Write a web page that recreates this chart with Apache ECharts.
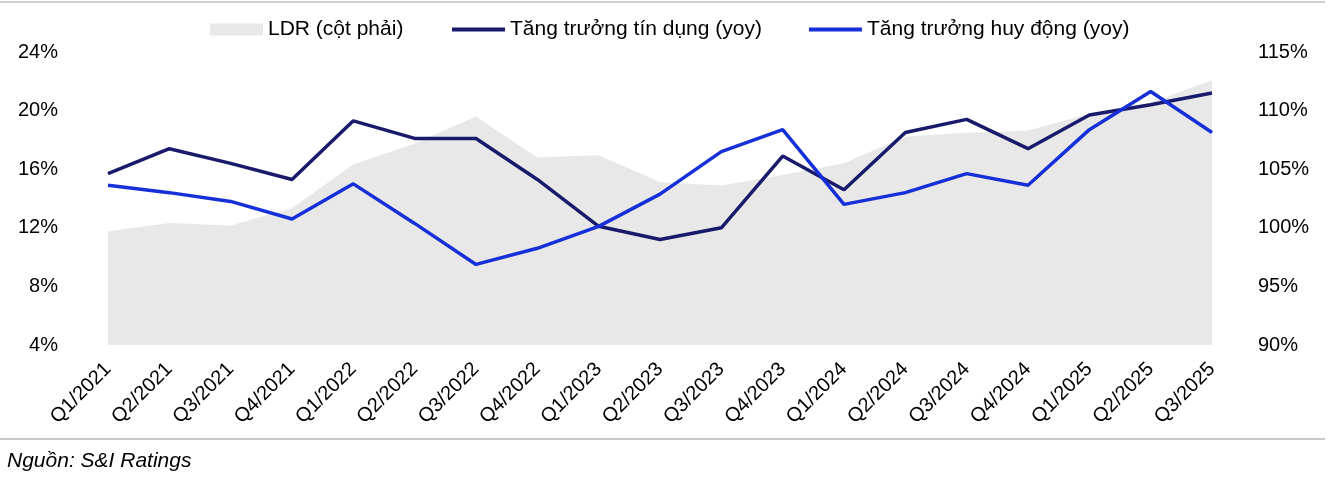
<!DOCTYPE html>
<html>
<head>
<meta charset="utf-8">
<script src="https://cdn.jsdelivr.net/npm/echarts@6/dist/echarts.min.js"></script>
<style>
html,body{margin:0;padding:0;background:#fff;}
#chart{width:1342px;height:488px;}
</style>
</head>
<body>
<div id="chart"></div>
<script>
var categories = ['Q1/2021','Q2/2021','Q3/2021','Q4/2021','Q1/2022','Q2/2022','Q3/2022','Q4/2022','Q1/2023','Q2/2023','Q3/2023','Q4/2023','Q1/2024','Q2/2024','Q3/2024','Q4/2024','Q1/2025','Q2/2025','Q3/2025'];
var ldr = [99.7, 100.4, 100.2, 101.7, 105.4, 107.2, 109.5, 106.0, 106.2, 103.9, 103.6, 104.5, 105.5, 107.8, 108.1, 108.3, 109.7, 110.7, 112.6];
var creditGrowth = [15.7, 17.4, 16.4, 15.3, 19.3, 18.1, 18.1, 15.3, 12.1, 11.2, 12.0, 16.9, 14.6, 18.5, 19.4, 17.4, 19.7, 20.4, 21.2];
var depositGrowth = [14.9, 14.4, 13.8, 12.6, 15.0, 12.3, 9.5, 10.6, 12.1, 14.3, 17.2, 18.7, 13.6, 14.4, 15.7, 14.9, 18.7, 21.3, 18.5];
var leftTicks = {min: 4, max: 24, interval: 4};
var rightTicks = {min: 90, max: 115, interval: 5};

var FONT = '"Liberation Sans", Arial, sans-serif';
var chart = echarts.init(document.getElementById('chart'));
chart.setOption({
  animation: false,
  backgroundColor: '#fff',
  textStyle: {fontFamily: FONT, color: '#000'},
  grid: {left: 108, right: 130, top: 52, bottom: 143},
  legend: [
    {
      data: [{name: 'LDR (cột phải)', icon: 'rect'}],
      left: 205, top: 14,
      itemWidth: 53, itemHeight: 12, itemGap: 47,
      textStyle: {fontFamily: FONT, fontSize: 21, color: '#000'}
    },
    {
      data: [{name: 'Tăng trưởng tín dụng (yoy)', icon: 'rect'}, {name: 'Tăng trưởng huy động (yoy)', icon: 'rect'}],
      left: 447, top: 14,
      itemWidth: 53, itemHeight: 4, itemGap: 47,
      textStyle: {fontFamily: FONT, fontSize: 21, color: '#000'}
    }
  ],
  xAxis: {
    type: 'category',
    data: categories,
    boundaryGap: false,
    axisLine: {show: false},
    axisTick: {show: false},
    axisLabel: {rotate: 45, fontSize: 20, color: '#000', fontFamily: FONT, margin: 21, interval: 0}
  },
  yAxis: [
    {
      type: 'value', min: leftTicks.min, max: leftTicks.max, interval: leftTicks.interval,
      splitLine: {show: false}, axisLine: {show: false}, axisTick: {show: false},
      axisLabel: {formatter: '{value}%', fontSize: 20, color: '#000', fontFamily: FONT, margin: 50}
    },
    {
      type: 'value', min: rightTicks.min, max: rightTicks.max, interval: rightTicks.interval,
      splitLine: {show: false}, axisLine: {show: false}, axisTick: {show: false},
      axisLabel: {formatter: '{value}%', fontSize: 20, color: '#000', fontFamily: FONT, margin: 46}
    }
  ],
  series: [
    {
      name: 'LDR (cột phải)', type: 'line', yAxisIndex: 1, data: ldr,
      symbol: 'none', lineStyle: {width: 0, color: '#e8e8e8'},
      itemStyle: {color: '#e8e8e8'},
      areaStyle: {color: '#e8e8e8', opacity: 1, origin: 'start'}, z: 1
    },
    {
      name: 'Tăng trưởng tín dụng (yoy)', type: 'line', yAxisIndex: 0, data: creditGrowth,
      symbol: 'none', lineStyle: {width: 3.5, color: '#1a1a6c'}, itemStyle: {color: '#1a1a6c'}, z: 3
    },
    {
      name: 'Tăng trưởng huy động (yoy)', type: 'line', yAxisIndex: 0, data: depositGrowth,
      symbol: 'none', lineStyle: {width: 3.5, color: '#1530d8'}, itemStyle: {color: '#1530d8'}, z: 4
    }
  ],
  graphic: [
    {type: 'line', shape: {x1: 0, y1: 2, x2: 1325, y2: 2}, style: {stroke: '#d0d0d0', lineWidth: 2}},
    {type: 'line', shape: {x1: 0, y1: 439, x2: 1325, y2: 439}, style: {stroke: '#c8c8c8', lineWidth: 2}},
    {type: 'text', left: 7, top: 451, style: {text: 'Nguồn: S&I Ratings', font: 'italic 21px ' + FONT, fill: '#000'}}
  ]
});
</script>
</body>
</html>
